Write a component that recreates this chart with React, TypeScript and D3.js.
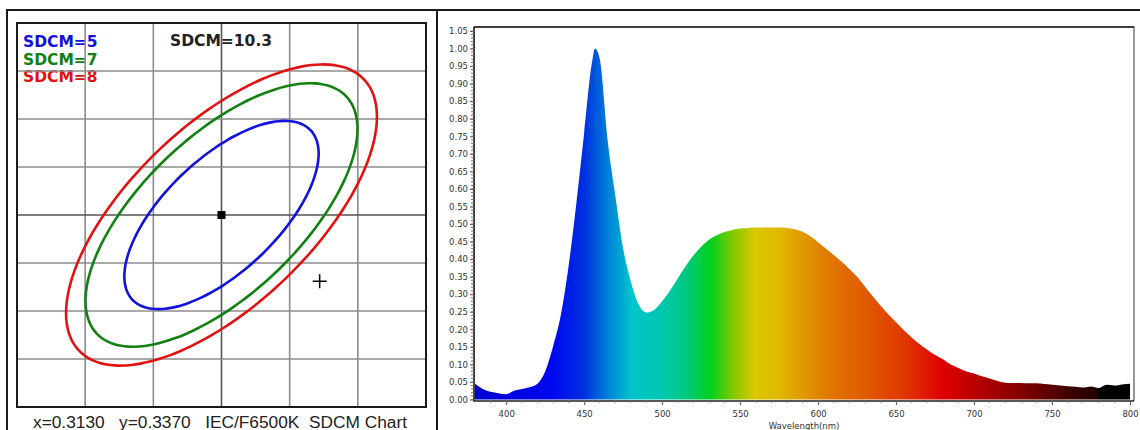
import React, { useEffect, useRef } from 'react'
import * as d3 from 'd3'

// SDCM chart (left)
const sdcmSteps = [5, 7, 8]
const sdcmColors = ['#1212dc', '#128012', '#e01212']
const center = [0.3130, 0.3370]
const macAdam = { a: 0.00223, b: 0.00095, theta: 58.23 }
const testPoint = [0.3202, 0.3301]
const sdcmValue = 10.3
const gridX = [0.303, 0.308, 0.313, 0.318, 0.323]
const gridY = [0.322, 0.327, 0.332, 0.337, 0.342, 0.347, 0.352]

// spectrum (right)
const wavelengths = [380, 385, 390, 395, 400, 405, 410, 415, 420, 425, 430, 435, 440, 445, 450, 455, 457, 460, 465, 470, 475, 480, 485, 490, 495, 500, 505, 510, 515, 520, 525, 530, 535, 540, 545, 550, 555, 560, 565, 570, 575, 580, 585, 590, 595, 600, 605, 610, 615, 620, 625, 630, 635, 640, 645, 650, 655, 660, 665, 670, 675, 680, 685, 690, 695, 700, 705, 710, 715, 720, 725, 730, 735, 740, 745, 750, 755, 760, 765, 770, 775, 780, 785, 790, 795, 800]
const intensity = [0.045, 0.03, 0.022, 0.018, 0.015, 0.025, 0.03, 0.035, 0.045, 0.08, 0.15, 0.24, 0.38, 0.56, 0.76, 0.96, 1.0, 0.97, 0.74, 0.58, 0.43, 0.335, 0.27, 0.248, 0.256, 0.28, 0.31, 0.345, 0.38, 0.41, 0.435, 0.455, 0.468, 0.477, 0.483, 0.487, 0.489, 0.49, 0.49, 0.49, 0.49, 0.489, 0.485, 0.478, 0.465, 0.448, 0.43, 0.412, 0.393, 0.372, 0.35, 0.322, 0.294, 0.268, 0.243, 0.22, 0.197, 0.177, 0.158, 0.142, 0.127, 0.115, 0.1, 0.09, 0.08, 0.074, 0.066, 0.06, 0.053, 0.048, 0.047, 0.047, 0.046, 0.046, 0.044, 0.042, 0.04, 0.038, 0.036, 0.034, 0.037, 0.033, 0.042, 0.04, 0.043, 0.045]
const yTicks = [0, 0.05, 0.1, 0.15, 0.2, 0.25, 0.3, 0.35, 0.4, 0.45, 0.5, 0.55, 0.6, 0.65, 0.7, 0.75, 0.8, 0.85, 0.9, 0.95, 1.0, 1.05]
const xTicks = [400, 450, 500, 550, 600, 650, 700, 750, 800]
const colorStops: [number, string][] = [
  [380, '#0000d0'], [430, '#0008f0'], [450, '#0030e0'], [465, '#0080d8'], [480, '#00c4cc'],
  [500, '#00c8b0'], [515, '#00c880'], [531, '#00d020'], [545, '#80c800'], [560, '#dcc800'],
  [575, '#e0b800'], [590, '#e09a00'], [607, '#e07800'], [630, '#e05a00'], [655, '#e03800'],
  [680, '#e00000'], [705, '#b00000'], [732, '#800000'], [760, '#400000'], [779, '#200000'],
  [780, '#000000'], [800, '#000000']
]

export default function App() {
  const ref = useRef<SVGSVGElement>(null)

  useEffect(() => {
    const svg = d3.select(ref.current)
    svg.selectAll('*').remove()

    // outer frame
    svg.append('path').attr('d', 'M7,431V10H1141').attr('fill', 'none').attr('stroke', '#1a1a1a').attr('stroke-width', 2)
    svg.append('line').attr('x1', 437).attr('x2', 437).attr('y1', 10).attr('y2', 431).attr('stroke', '#1a1a1a').attr('stroke-width', 2)

    // ---------- left: SDCM ellipses ----------
    const sx = d3.scaleLinear().domain([0.298, 0.328]).range([17, 426])
    const sy = d3.scaleLinear().domain([0.317, 0.357]).range([407, 23])
    const left = svg.append('g')

    const labels = left.append('g').attr('font-family', 'DejaVu Sans, Verdana, sans-serif').attr('font-weight', 'bold').attr('font-size', 15.5)
    labels.selectAll('text.step')
      .data(sdcmSteps)
      .join('text')
      .attr('x', 23)
      .attr('y', (d, i) => 47 + i * 17.5)
      .attr('fill', (d, i) => sdcmColors[i])
      .text(d => `SDCM=${d}`)
    labels.append('text').attr('x', 170).attr('y', 46).attr('fill', '#222').text(`SDCM=${sdcmValue}`)

    const grid = left.append('g').attr('stroke', '#8c8c8c').attr('stroke-width', 1.6)
    grid.selectAll('line.v').data(gridX).join('line')
      .attr('x1', d => sx(d)).attr('x2', d => sx(d)).attr('y1', sy(0.317)).attr('y2', sy(0.357))
      .attr('stroke', d => d === center[0] ? '#555' : '#8c8c8c')
    grid.selectAll('line.h').data(gridY).join('line').attr('class', 'h')
      .attr('y1', d => sy(d)).attr('y2', d => sy(d)).attr('x1', sx(0.298)).attr('x2', sx(0.328))
      .attr('stroke', d => d === center[1] ? '#555' : '#8c8c8c')

    left.append('rect').attr('x', 17).attr('y', 23).attr('width', 409).attr('height', 384)
      .attr('fill', 'none').attr('stroke', '#1a1a1a').attr('stroke-width', 2)

    const th = macAdam.theta * Math.PI / 180
    const angles = d3.range(0, 361, 4).map(d => d * Math.PI / 180)
    const ellipse = (n: number) => angles.map(t => {
      const u = macAdam.a * n * Math.cos(t)
      const v = macAdam.b * n * Math.sin(t)
      return [center[0] + u * Math.cos(th) - v * Math.sin(th), center[1] + u * Math.sin(th) + v * Math.cos(th)]
    })
    const line = d3.line<number[]>().x(d => sx(d[0])).y(d => sy(d[1])).curve(d3.curveCardinalClosed)
    left.selectAll('path.ell').data(sdcmSteps).join('path')
      .attr('d', d => line(ellipse(d).slice(0, -1)))
      .attr('fill', 'none')
      .attr('stroke', (d, i) => sdcmColors[i])
      .attr('stroke-width', 2.6)

    left.append('rect').attr('x', sx(center[0]) - 4).attr('y', sy(center[1]) - 4).attr('width', 8).attr('height', 8).attr('fill', '#000')
    const px = sx(testPoint[0]), py = sy(testPoint[1])
    left.append('path').attr('d', `M${px - 7},${py}H${px + 7}M${px},${py - 7}V${py + 7}`).attr('stroke', '#000').attr('stroke-width', 1.5)

    left.append('text').attr('x', 33).attr('y', 428)
      .attr('font-family', 'Liberation Sans, Arial, sans-serif').attr('font-size', 16)
      .attr('fill', '#222').attr('textLength', 374).attr('lengthAdjust', 'spacingAndGlyphs')
      .attr('xml:space', 'preserve')
      .text('x=0.3130   y=0.3370   IEC/F6500K  SDCM Chart')

    // ---------- right: spectrum ----------
    const wx = d3.scaleLinear().domain([380, 800]).range([475, 1130])
    const wy = d3.scaleLinear().domain([0, 1.05]).range([399.5, 31])
    const right = svg.append('g')

    const grad = svg.append('defs').append('linearGradient').attr('id', 'spec')
      .attr('gradientUnits', 'userSpaceOnUse').attr('x1', wx(380)).attr('x2', wx(800)).attr('y1', 0).attr('y2', 0)
    grad.selectAll('stop').data(colorStops).join('stop')
      .attr('offset', d => (d[0] - 380) / 420)
      .attr('stop-color', d => d[1])

    const pts = wavelengths.map((w, i) => [w, intensity[i]])
    const area = d3.area<number[]>().x(d => wx(d[0])).y0(wy(0)).y1(d => wy(d[1])).curve(d3.curveMonotoneX)
    right.append('path').attr('d', area(pts)).attr('fill', 'url(#spec)')

    right.append('path').attr('d', 'M474,401V27H1134V401').attr('fill', 'none').attr('stroke', '#777').attr('stroke-width', 1.5)
    right.append('path').attr('d', 'M474,27H1134M474,27V401H1134').attr('fill', 'none').attr('stroke', '#222').attr('stroke-width', 1.5)

    const yAxis = d3.axisLeft(wy).tickValues(yTicks).tickFormat(d3.format('.2f')).tickSize(4).tickPadding(2)
    const ya = right.append('g').attr('transform', 'translate(474,0)').call(yAxis)
    ya.select('.domain').remove()
    ya.selectAll('text').attr('font-family', 'DejaVu Sans, Tahoma, sans-serif').attr('font-size', 8.5).attr('fill', '#333')
    ya.selectAll('line').attr('stroke', '#555')
    const yMinor = right.append('g').attr('stroke', '#777')
    yMinor.selectAll('line').data(d3.range(0, 106).map(d => d / 100)).join('line')
      .attr('x1', 471).attr('x2', 474).attr('y1', d => wy(d)).attr('y2', d => wy(d))

    const xAxis = d3.axisBottom(wx).tickValues(xTicks).tickSize(4).tickPadding(6)
    const xa = right.append('g').attr('transform', 'translate(0,401)').call(xAxis)
    xa.select('.domain').remove()
    xa.selectAll('text').attr('font-family', 'DejaVu Sans, Tahoma, sans-serif').attr('font-size', 8.5).attr('fill', '#333')
    xa.selectAll('line').attr('stroke', '#555')
    const xMinor = right.append('g').attr('stroke', '#888')
    xMinor.selectAll('line').data(d3.range(390, 800, 10)).join('line')
      .attr('x1', d => wx(d)).attr('x2', d => wx(d)).attr('y1', 401).attr('y2', 403)

    right.append('text').attr('x', 804).attr('y', 428.5).attr('text-anchor', 'middle')
      .attr('font-family', 'DejaVu Sans, Tahoma, sans-serif').attr('font-size', 8.5).attr('fill', '#333')
      .text('Wavelength(nm)')
  }, [])

  return (
    <svg ref={ref} width={1140} height={430} style={{ position: 'absolute', left: 0, top: 0, background: '#fff' }} />
  )
}
